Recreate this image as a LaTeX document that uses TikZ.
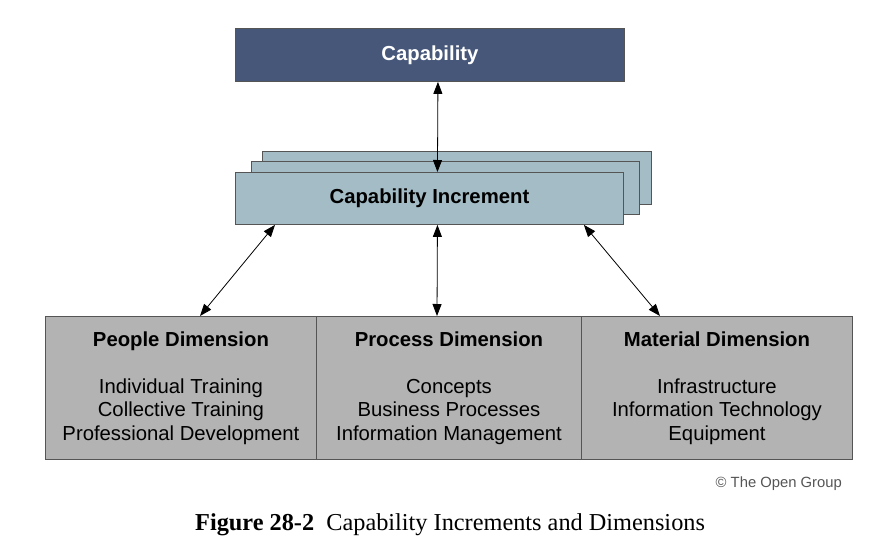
\documentclass[tikz,border=0pt]{standalone}
\usepackage{fontspec}
\setmainfont{Liberation Sans}
\newfontfamily\capfont{Liberation Serif}
\usetikzlibrary{arrows.meta}
\definecolor{capblue}{HTML}{46577A}
\definecolor{incblue}{HTML}{A3BCC6}
\definecolor{dimgray}{HTML}{B3B3B3}
\definecolor{edge}{HTML}{555555}
\tikzset{
  box/.style={draw=edge, line width=0.9pt, inner sep=0pt, anchor=north west},
  capbox/.style={box, fill=capblue, text=white, font=\fontsize{20.3}{23.5}\selectfont\bfseries},
  incbox/.style={box, fill=incblue, font=\fontsize{20.3}{23.5}\selectfont\bfseries},
  dimbox/.style={box, fill=dimgray, align=center, font=\fontsize{20.3}{23.5}\selectfont},
  link/.style={line width=0.8pt, {Triangle[length=12pt,width=9pt]}-{Triangle[length=12pt,width=9pt]}}
}
\begin{document}
\begin{tikzpicture}[x=1pt,y=-1pt]
\useasboundingbox (0,0) rectangle (877,549);
% capability
\node[capbox, minimum width=389pt, minimum height=53pt] (cap) at (235,28) {Capability};
% increment stack
\node[box, fill=incblue, minimum width=389pt, minimum height=53pt] (incback) at (262,151) {};
\node[box, fill=incblue, minimum width=388pt, minimum height=53pt] (incmid) at (251,161) {};
\node[incbox, minimum width=388pt, minimum height=52pt] (inc) at (235,172) {Capability Increment};
% dimensions
\node[dimbox, minimum width=271pt, minimum height=143pt] (people) at (45,316)
  {\textbf{People Dimension}\\[23.5pt]Individual Training\\Collective Training\\Professional Development};
\node[dimbox, minimum width=265pt, minimum height=143pt] (process) at (316,316)
  {\textbf{Process Dimension}\\[23.5pt]Concepts\\Business Processes\\Information Management};
\node[dimbox, minimum width=271pt, minimum height=143pt] (material) at (581,316)
  {\textbf{Material Dimension}\\[23.5pt]Infrastructure\\Information Technology\\Equipment};
% connectors
\draw[link] ([xshift=8pt]cap.south) -- ([xshift=8pt]inc.north);
\draw[link] ([xshift=40pt]inc.south west) -- ([xshift=155pt]people.north west);
\draw[link] ([xshift=8pt]inc.south) -- ([xshift=121pt]process.north west);
\draw[link] ([xshift=-40pt]inc.south east) -- ([xshift=79pt]material.north west);
% texts
\node[anchor=base east, text=edge, font=\fontsize{14.8}{17}\selectfont, inner sep=0pt] (copy) at (842,487) {© The Open Group};
\node[anchor=base west, inner sep=0pt, font=\capfont\fontsize{24.3}{28}\selectfont] (caption) at (195,530)
  {\textbf{Figure 28-2}\ \ Capability Increments and Dimensions};
\end{tikzpicture}
\end{document}
